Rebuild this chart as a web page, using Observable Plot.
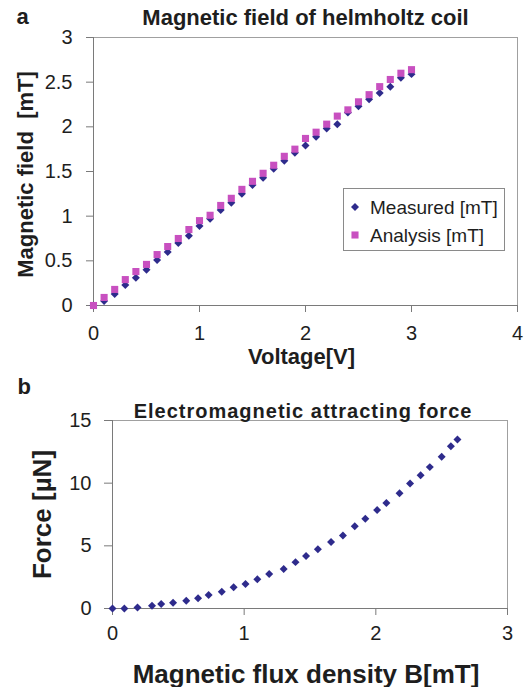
<!DOCTYPE html>
<html><head><meta charset="utf-8">
<script src="https://cdn.jsdelivr.net/npm/d3@7"></script>
<script src="https://cdn.jsdelivr.net/npm/@observablehq/plot@0.6"></script>
<style>
body{margin:0;background:#fff;}
#wrap{position:relative;width:526px;height:687px;font-family:"Liberation Sans",Arial,sans-serif;overflow:hidden}
#wrap > svg{display:block}
#legend{position:absolute;left:343px;top:188px;}
</style></head><body><div id="wrap"></div><script>
// ---- Panel a data ----
const voltage = [0,0.1,0.2,0.3,0.4,0.5,0.6,0.7,0.8,0.9,1.0,1.1,1.2,1.3,1.4,1.5,1.6,1.7,1.8,1.9,2.0,2.1,2.2,2.3,2.4,2.5,2.6,2.7,2.8,2.9,3.0];
const measured = [0,0.05,0.13,0.23,0.31,0.40,0.51,0.60,0.70,0.78,0.89,0.97,1.07,1.15,1.25,1.35,1.43,1.53,1.62,1.71,1.79,1.89,1.98,2.03,2.16,2.23,2.31,2.38,2.45,2.55,2.59];
const analysis = [0,0.09,0.18,0.29,0.38,0.46,0.57,0.66,0.75,0.85,0.95,1.01,1.12,1.20,1.30,1.39,1.48,1.57,1.67,1.75,1.87,1.94,2.03,2.12,2.19,2.28,2.36,2.45,2.53,2.60,2.64];
const seriesNames = ["Measured [mT]", "Analysis [mT]"];
const xTicksA = [0,1,2,3,4];
const yTicksA = [0,0.5,1,1.5,2,2.5,3];
// ---- Panel b data ----
const fluxB = [0,0.09,0.19,0.30,0.37,0.46,0.56,0.65,0.73,0.83,0.92,1.01,1.10,1.19,1.30,1.39,1.47,1.56,1.66,1.75,1.84,1.92,2.01,2.08,2.18,2.26,2.34,2.41,2.50,2.57,2.62];
const force = [0,0,0.08,0.21,0.35,0.46,0.62,0.81,1.07,1.34,1.69,1.96,2.33,2.76,3.16,3.70,4.18,4.72,5.31,5.82,6.57,7.16,7.85,8.41,9.19,9.97,10.64,11.28,12.11,12.94,13.48];
const xTicksB = [0,1,2,3];
const yTicksB = [0,5,10,15];

const titleA = "Magnetic field of helmholtz coil";
const titleB = "Electromagnetic attracting force";

const navy = "#2e2b8c", magenta = "#c850c0";
const FONT = '"Liberation Sans", Arial, sans-serif';
const ink = "#1e1e1e", axisGray = "#7a7a7a", frameGray = "#a0a0a0";
const rDiamond = 3.6, rSquare = 4.0;

const measRows = voltage.map((v, i) => ({v, b: measured[i]}));
const anaRows = voltage.map((v, i) => ({v, b: analysis[i]}));
const forceRows = fluxB.map((b, i) => ({b, f: force[i]}));

const plotA = Plot.plot({
  width: 526, height: 372,
  marginTop: 37, marginBottom: 67, marginLeft: 93, marginRight: 9,
  style: {fontFamily: FONT, color: ink, background: "transparent", overflow: "visible"},
  x: {domain: [0, 4]},
  y: {domain: [0, 3]},
  marks: [
    Plot.frame({stroke: frameGray}),
    Plot.axisX(xTicksA, {tickSize: 7, tickPadding: 13, fontSize: 20, stroke: axisGray, fill: ink, label: null, tickFormat: d => String(d)}),
    Plot.axisY(yTicksA, {tickSize: 7, tickPadding: 14, fontSize: 20, stroke: axisGray, fill: ink, label: null, tickFormat: d => String(d)}),
    Plot.ruleX([0], {stroke: axisGray}),
    Plot.ruleY([0], {stroke: axisGray}),
    Plot.dot(measRows, {x: "v", y: "b", symbol: "diamond2", r: rDiamond, fill: navy, stroke: "none"}),
    Plot.dot(anaRows, {x: "v", y: "b", symbol: "square", r: rSquare, fill: magenta, stroke: "none"}),
    Plot.text(["a"], {frameAnchor: "top-left", dx: -77, dy: -14, textAnchor: "start", lineAnchor: "bottom", fontSize: 22, fontWeight: "bold", fill: ink}),
    Plot.text([titleA], {frameAnchor: "top", dx: 0, dy: -13, textAnchor: "middle", lineAnchor: "bottom", fontSize: 22, fontWeight: "bold", fill: ink}),
    Plot.text(["Magnetic field\u00a0\u00a0[mT]"], {frameAnchor: "left", dx: -68, dy: 3, rotate: -90, textAnchor: "middle", fontSize: 22, fontWeight: "bold", fill: ink}),
    Plot.text(["Voltage[V]"], {frameAnchor: "bottom", dx: -4, dy: 58, textAnchor: "middle", lineAnchor: "bottom", fontSize: 22, fontWeight: "bold", fill: ink})
  ]
});

const plotB = Plot.plot({
  width: 526, height: 315,
  marginTop: 48, marginBottom: 79, marginLeft: 112, marginRight: 19,
  style: {fontFamily: FONT, color: ink, background: "transparent", overflow: "visible"},
  x: {domain: [0, 3]},
  y: {domain: [0, 15]},
  marks: [
    Plot.frame({stroke: frameGray}),
    Plot.axisX(xTicksB, {tickSize: 7, tickPadding: 10, fontSize: 20, stroke: axisGray, fill: ink, label: null, tickFormat: d => String(d)}),
    Plot.axisY(yTicksB, {tickSize: 8, tickPadding: 13, fontSize: 20, stroke: axisGray, fill: ink, label: null, tickFormat: d => String(d)}),
    Plot.ruleX([0], {stroke: axisGray}),
    Plot.ruleY([0], {stroke: axisGray}),
    Plot.dot(forceRows, {x: "b", y: "f", symbol: "diamond2", r: rDiamond, fill: navy, stroke: "none"}),
    Plot.text(["b"], {frameAnchor: "top-left", dx: -95, dy: -27, textAnchor: "start", lineAnchor: "bottom", fontSize: 22, fontWeight: "bold", fill: ink}),
    Plot.text([titleB], {frameAnchor: "top", dx: -7, dy: -3, textAnchor: "middle", lineAnchor: "bottom", fontSize: 20, fontWeight: "bold", fill: ink}),
    Plot.text(["Force [µN]"], {frameAnchor: "left", dx: -70, rotate: -90, textAnchor: "middle", fontSize: 26, fontWeight: "bold", fill: ink}),
    Plot.text(["Magnetic flux density B[mT]"], {frameAnchor: "bottom", dx: -4, dy: 74, textAnchor: "middle", lineAnchor: "bottom", fontSize: 26, fontWeight: "bold", fill: ink})
  ]
});

// widen the panel-b title letter spacing as in the reference
d3.select(plotB).selectAll("text").filter(function() { return this.textContent === titleB; })
  .style("letter-spacing", "1px");

const wrap = document.getElementById("wrap");
wrap.appendChild(plotA);
wrap.appendChild(plotB);

// Legend (panel a)
const leg = d3.create("svg").attr("id", "legend").attr("width", 163).attr("height", 63)
  .style("font-family", FONT);
leg.append("rect").attr("x", 0.5).attr("y", 0.5).attr("width", 161).attr("height", 62)
  .attr("fill", "#fff").attr("stroke", "#8a8a8a");
const legSym = [d3.symbol(d3.symbolDiamond2, rDiamond * rDiamond * Math.PI)(), d3.symbol(d3.symbolSquare, rSquare * rSquare * Math.PI)()];
const legColors = [navy, magenta];
seriesNames.forEach((name, i) => {
  const cy = 19 + i * 28;
  leg.append("path").attr("d", legSym[i]).attr("transform", `translate(12,${cy})`).attr("fill", legColors[i]);
  leg.append("text").attr("x", 27).attr("y", cy + 6.5).attr("font-size", 19).attr("fill", ink).text(name);
});
wrap.appendChild(leg.node());
</script></body></html>
